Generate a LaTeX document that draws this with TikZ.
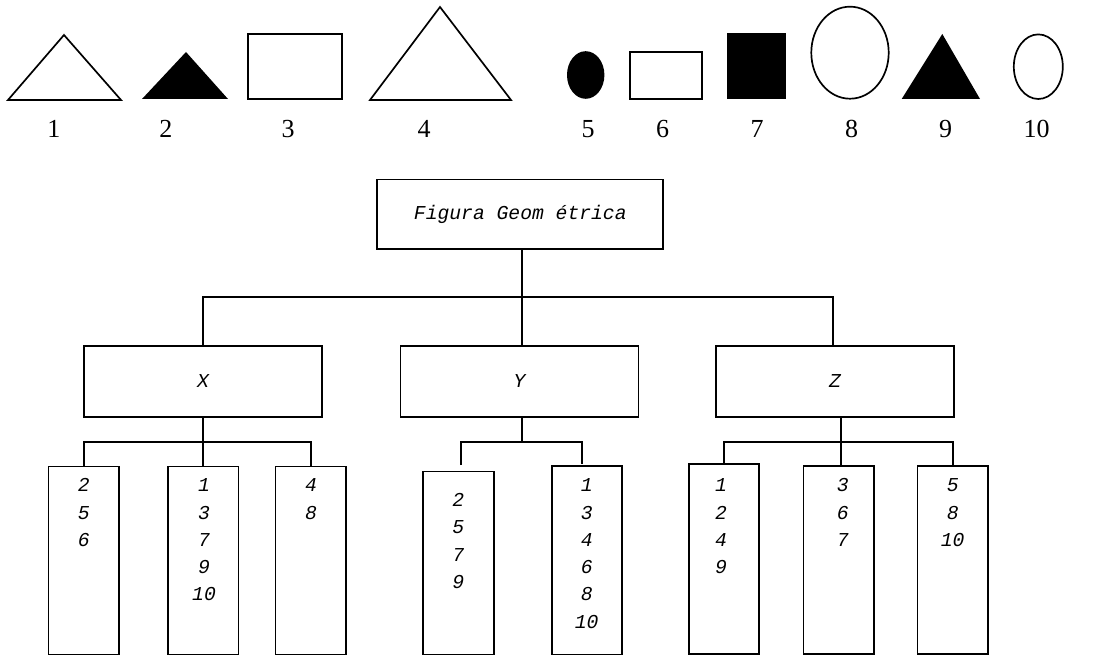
\documentclass[tikz,border=0pt]{standalone}
\usepackage{fontspec}
\setmainfont{Liberation Serif}
\setmonofont{Liberation Mono}
\tikzset{
	shp/.style={line width=1.2pt},
	shapelbl/.style={anchor=base,inner sep=0pt,font=\fontsize{18.5}{22}\selectfont},
	box/.style={draw,line width=1.25pt,font=\fontsize{14}{19.4}\selectfont\ttfamily\itshape},
	leaf/.style={draw,line width=1.25pt,anchor=north,minimum width=1.76cm},
	nums/.style={anchor=north,align=center,inner sep=0pt,font=\fontsize{14}{19.4}\selectfont\ttfamily\itshape},
	link/.style={line width=1.25pt}
}
\begin{document}
\begin{tikzpicture}[x=0.025cm,y=-0.025cm]
	\useasboundingbox (0,0) rectangle (1110,655);
	
	\draw[shp] (8,100)--(64,35)--(121,100)--cycle;
	\fill (142,99)--(186,52)--(228,99)--cycle;
	\draw[shp] (248,34) rectangle (342,99);
	\draw[shp] (370,100)--(440,7)--(511,100)--cycle;
	\fill (585.7,75) ellipse [x radius=0.4675cm,y radius=0.595cm];
	\draw[shp] (630,52) rectangle (701.7,99);
	\fill (727,33) rectangle (785.7,99);
	\draw[shp] (850,52.7) ellipse [x radius=0.9675cm,y radius=1.15cm];
	\fill (901.7,99)--(942.3,34)--(980,99)--cycle;
	\draw[shp] (1038.3,66.7) ellipse [x radius=0.6125cm,y radius=0.8075cm];
	
	\foreach \n/\x in {1/54,2/166,3/288,4/424,5/588,6/662.7,7/757,8/851.7,9/945.7,10/1036.7}
		\node[shapelbl] (lbl\n) at (\x,137.7) {\n};
	
	\node[box,minimum width=7.15cm,minimum height=1.74cm] (fig) at (520.3,214.2) {Figura Geom étrica};
	\node[box,minimum width=5.95cm,minimum height=1.77cm] (X) at (203,381.3) {X};
	\node[box,minimum width=5.95cm,minimum height=1.77cm] (Y) at (519.5,381.3) {Y};
	\node[box,minimum width=5.95cm,minimum height=1.77cm] (Z) at (835,381.3) {Z};
	
	\node[leaf,minimum height=4.71cm] (X1) at (83.7,465.7) {};
	\node[leaf,minimum height=4.71cm] (X2) at (203.3,465.7) {};
	\node[leaf,minimum height=4.71cm] (X3) at (310.8,465.7) {};
	\node[leaf,minimum height=4.58cm] (Y1) at (458.5,470.7) {};
	\node[leaf,minimum height=4.725cm] (Y2) at (587,465) {};
	\node[leaf,minimum height=4.74cm] (Z1) at (724,463.3) {};
	\node[leaf,minimum height=4.7cm] (Z2) at (838.7,465) {};
	\node[leaf,minimum height=4.7cm] (Z3) at (952.7,465) {};
	
	\node[nums] (tX1) at (83.7,478.5) {2\\5\\6};
	\node[nums] (tX2) at (204,478.5) {1\\3\\7\\9\\10};
	\node[nums] (tX3) at (311,478.5) {4\\8};
	\node[nums] (tY1) at (458.3,493) {2\\5\\7\\9};
	\node[nums] (tY2) at (586.7,478.5) {1\\3\\4\\6\\8\\10};
	\node[nums] (tZ1) at (721,478.5) {1\\2\\4\\9};
	\node[nums] (tZ2) at (842.7,478.5) {3\\6\\7};
	\node[nums] (tZ3) at (952.7,478.5) {5\\8\\10};
	
	\coordinate (bus) at (521.7,297);
	\coordinate (xbus) at (203,441.7);
	\coordinate (ybus) at (521.7,441.7);
	\coordinate (zbus) at (841,441.7);
	\coordinate (y1end) at (460.7,465);
	\coordinate (y2end) at (582.3,464);
	
	\draw[link] (fig.south -| bus)--(bus);
	\draw[link] (X.north) |- (bus) -| (833.3,346);
	\draw[link] (Y.north -| bus)--(bus);
	
	\draw[link] (X.south -| xbus)--(xbus);
	\draw[link] (X1.north) |- (xbus) -| (X3.north);
	\draw[link] (X2.north -| xbus)--(xbus);
	
	\draw[link] (Y.south -| ybus)--(ybus);
	\draw[link] (y1end) |- (ybus) -| (y2end);
	
	\draw[link] (Z.south -| zbus)--(zbus);
	\draw[link] (Z1.north) |- (zbus) -| (Z3.north);
	\draw[link] (Z2.north -| zbus)--(zbus);
\end{tikzpicture}
\end{document}
